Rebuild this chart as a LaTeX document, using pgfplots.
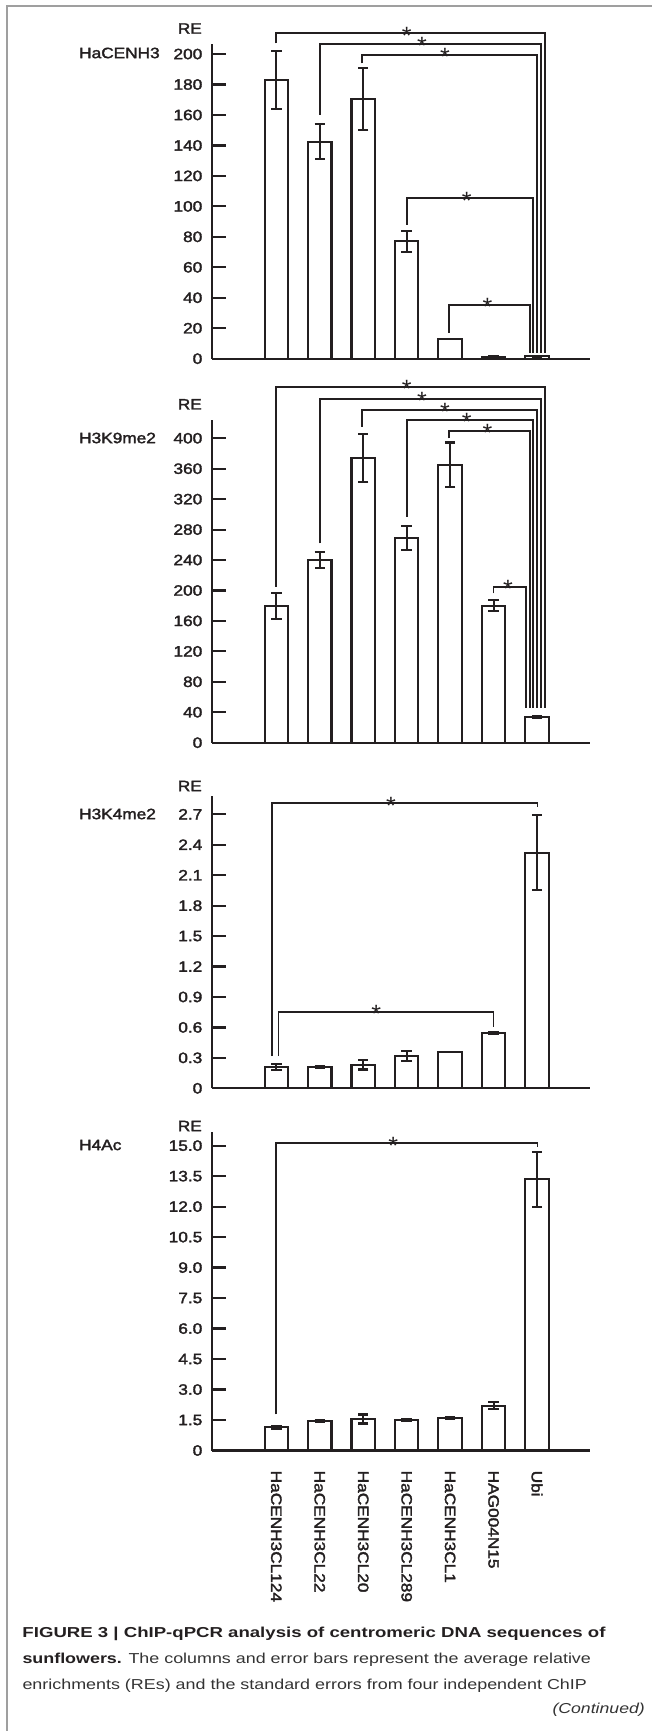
\documentclass[border=0pt]{standalone}
\usepackage{pgfplots}
\pgfplotsset{compat=1.18}
\usepackage{fontspec}
\usepackage{graphicx}
\setmainfont{Liberation Sans}
\newfontfamily\chartfont[FakeBold=2]{Liberation Sans}
\definecolor{ink}{HTML}{231F20}
\definecolor{captxt}{HTML}{333333}
\newcommand{\chf}{\chartfont\fontsize{15}{18}\selectfont}
\newcommand{\hs}[1]{\scalebox{1.15}[1]{#1}}
\newcommand{\sig}[2]{\node[anchor=base, inner sep=0pt, font=\fontsize{25}{25}\selectfont, text=ink, yshift=-10.8pt] at (axis cs:#1,#2) {*};}
\tikzset{brk/.style={draw=ink, line width=1.8pt, line join=miter}}
\pgfplotsset{
  rechart/.style={
    scale only axis,
    width=377.6pt,
    anchor=south west,
    axis x line*=bottom,
    axis y line*=left,
    xmin=-1.48, xmax=7.21,
    ymin=0,
    clip=false,
    axis line style={ink, line width=2.2pt},
    tick align=inside,
    major tick length=14pt,
    ytick style={ink, line width=2.2pt},
    xtick style={draw=none},
    xtick=\empty,
    tick label style={font=\chf, text=ink},
    yticklabel style={inner sep=0pt, anchor=east},
    yticklabel shift=9.5pt,
    ybar, bar width=23.5pt,
  },
  rebar/.style={draw=ink, fill=white, line width=2.1pt,
    error bars/.cd, y dir=both, y explicit,
    error bar style={ink, line width=2.1pt},
    error mark options={ink, line width=2.1pt, mark size=5.2pt, rotate=90}},
}
\begin{document}
\begin{tikzpicture}
\useasboundingbox (0,0) rectangle (652pt,-1731pt);
\draw[gray!75, line width=1.5pt] (7pt,-1731pt) -- (7pt,-6pt) -- (652pt,-6pt);

% ---------- Chart 1: HaCENH3
\begin{axis}[rechart, at={(212pt,-358.7pt)}, height=314.4pt, ymax=206.4,
  ytick={0,20,40,60,80,100,120,140,160,180,200},
  yticklabels={\hs{0},\hs{20},\hs{40},\hs{60},\hs{80},\hs{100},\hs{120},\hs{140},\hs{160},\hs{180},\hs{200}}]
\addplot[rebar] coordinates {
 (0,183) +- (0,19)
 (1,142.5) +- (0,11.5)
 (2,170.5) +- (0,20.5)
 (3,77) +- (0,6.7)
 (4,13) +- (0,0)
 (5,1.2) +- (0,0.4)
 (6,1.5) +- (0,0.5)
};
\draw[brk] (axis cs:0,207) -- (axis cs:0,213.6) -- (axis cs:6.175,213.6) -- (axis cs:6.175,3.5);
\draw[brk] (axis cs:1,160) -- (axis cs:1,206.6) -- (axis cs:6.09,206.6) -- (axis cs:6.09,3.5);
\draw[brk] (axis cs:1.97,193.9) -- (axis cs:1.97,199.3) -- (axis cs:6.0,199.3) -- (axis cs:6.0,3.5);
\draw[brk] (axis cs:3,87.8) -- (axis cs:3,105.3) -- (axis cs:5.915,105.3) -- (axis cs:5.915,3.5);
\draw[brk] (axis cs:3.97,17.1) -- (axis cs:3.97,35.2) -- (axis cs:5.83,35.2) -- (axis cs:5.83,3.5);
\sig{3.0}{213.6}
\sig{3.35}{206.6}
\sig{3.88}{199.3}
\sig{4.38}{105.3}
\sig{4.86}{35.2}
\end{axis}

% ---------- Chart 2: H3K9me2
\begin{axis}[rechart, at={(212pt,-742.7pt)}, height=322.7pt, ymax=424,
  ytick={0,40,80,120,160,200,240,280,320,360,400},
  yticklabels={\hs{0},\hs{40},\hs{80},\hs{120},\hs{160},\hs{200},\hs{240},\hs{280},\hs{320},\hs{360},\hs{400}}]
\addplot[rebar] coordinates {
 (0,180) +- (0,17)
 (1,240) +- (0,10)
 (2,374) +- (0,32)
 (3,269) +- (0,15.5)
 (4,365) +- (0,29.5)
 (5,180) +- (0,7)
 (6,34) +- (0,1.5)
};
\draw[brk] (axis cs:0,205) -- (axis cs:0,467.8) -- (axis cs:6.175,467.8) -- (axis cs:6.175,45.2);
\draw[brk] (axis cs:1,262) -- (axis cs:1,451.6) -- (axis cs:6.09,451.6) -- (axis cs:6.09,45.2);
\draw[brk] (axis cs:1.97,415.2) -- (axis cs:1.97,437.2) -- (axis cs:6.0,437.2) -- (axis cs:6.0,45.2);
\draw[brk] (axis cs:3,297) -- (axis cs:3,424) -- (axis cs:5.915,424) -- (axis cs:5.915,45.2);
\draw[brk] (axis cs:3.97,400) -- (axis cs:3.97,410) -- (axis cs:5.83,410) -- (axis cs:5.83,45.2);
\draw[brk] (axis cs:5,196.3) -- (axis cs:5,205) -- (axis cs:5.745,205) -- (axis cs:5.745,45.2);
\sig{3.0}{467.8}
\sig{3.35}{451.6}
\sig{3.88}{437.2}
\sig{4.38}{424}
\sig{4.86}{410}
\sig{5.33}{205}
\end{axis}

% ---------- Chart 3: H3K4me2
\begin{axis}[rechart, at={(212pt,-1088.3pt)}, height=292.3pt, ymax=2.88,
  ytick={0,0.3,0.6,0.9,1.2,1.5,1.8,2.1,2.4,2.7},
  yticklabels={\hs{0},\hs{0.3},\hs{0.6},\hs{0.9},\hs{1.2},\hs{1.5},\hs{1.8},\hs{2.1},\hs{2.4},\hs{2.7}}]
\addplot[rebar] coordinates {
 (0,0.21) +- (0,0.03)
 (1,0.21) +- (0,0.01)
 (2,0.23) +- (0,0.045)
 (3,0.318) +- (0,0.046)
 (4,0.36) +- (0,0)
 (5,0.542) +- (0,0.01)
 (6,2.32) +- (0,0.37)
};
\draw[brk] (axis cs:-0.1,0.318) -- (axis cs:-0.1,2.808) -- (axis cs:6.01,2.808) -- (axis cs:6.01,2.768);
\draw[brk] (axis cs:0.05,0.318) -- (axis cs:0.05,0.755) -- (axis cs:5.0,0.755) -- (axis cs:5.0,0.607);
\sig{2.64}{2.808}
\sig{2.30}{0.755}
\end{axis}

% ---------- Chart 4: H4Ac
\begin{axis}[rechart, at={(212pt,-1450.5pt)}, height=318.5pt, ymax=15.67,
  ytick={0,1.5,3,4.5,6,7.5,9,10.5,12,13.5,15},
  yticklabels={\hs{0},\hs{1.5},\hs{3.0},\hs{4.5},\hs{6.0},\hs{7.5},\hs{9.0},\hs{10.5},\hs{12.0},\hs{13.5},\hs{15.0}},
  xtick={0,1,2,3,4,5,6},
  xticklabels={\hs{HaCENH3CL124},\hs{HaCENH3CL22},\hs{HaCENH3CL20},\hs{HaCENH3CL289},\hs{HaCENH3CL1},\hs{HAG004N15},\hs{Ubi}},
  xticklabel style={rotate=-90, anchor=west, inner sep=0pt},
  xticklabel shift=6pt]
\addplot[rebar] coordinates {
 (0,1.15) +- (0,0.07)
 (1,1.45) +- (0,0.05)
 (2,1.55) +- (0,0.22)
 (3,1.5) +- (0,0.05)
 (4,1.6) +- (0,0.05)
 (5,2.2) +- (0,0.17)
 (6,13.35) +- (0,1.35)
};
\draw[brk] (axis cs:0,1.78) -- (axis cs:0,15.11) -- (axis cs:6.01,15.11) -- (axis cs:6.01,14.93);
\sig{2.69}{15.11}
\end{axis}

% ---------- labels
\begin{scope}[every node/.style={inner sep=0pt, text=ink, font=\chf}]
\node[anchor=east] at (202pt,-28.5pt) {\hs{RE}};
\node[anchor=west] at (79pt,-53pt) {\hs{HaCENH3}};
\node[anchor=east] at (202pt,-404.3pt) {\hs{RE}};
\node[anchor=west] at (79pt,-438pt) {\hs{H3K9me2}};
\node[anchor=east] at (202pt,-786pt) {\hs{RE}};
\node[anchor=west] at (79pt,-814pt) {\hs{H3K4me2}};
\node[anchor=east] at (202pt,-1126pt) {\hs{RE}};
\node[anchor=west] at (79pt,-1145pt) {\hs{H4Ac}};
\end{scope}

% ---------- caption
\begin{scope}[every node/.style={inner sep=0pt}]
\node[anchor=base west, text=ink] at (22.3pt,-1637.7pt)
  {\resizebox{583pt}{\height}{\fontsize{14.4}{17}\selectfont\bfseries FIGURE 3 | ChIP-qPCR analysis of centromeric DNA sequences of}};
\node[anchor=base west] at (22.3pt,-1663.3pt)
  {\resizebox{568.4pt}{\height}{\fontsize{14.4}{17}\selectfont{\color{ink}\bfseries sunflowers.} \color{captxt}The columns and error bars represent the average relative}};
\node[anchor=base west, text=captxt] at (22.3pt,-1689.3pt)
  {\resizebox{564.4pt}{\height}{\fontsize{14.4}{17}\selectfont enrichments (REs) and the standard errors from four independent ChIP}};
\node[anchor=base east, text=captxt] at (645pt,-1713.3pt)
  {\resizebox{92.3pt}{\height}{\fontsize{14.4}{17}\selectfont\itshape (Continued)}};
\end{scope}
\end{tikzpicture}
\end{document}
